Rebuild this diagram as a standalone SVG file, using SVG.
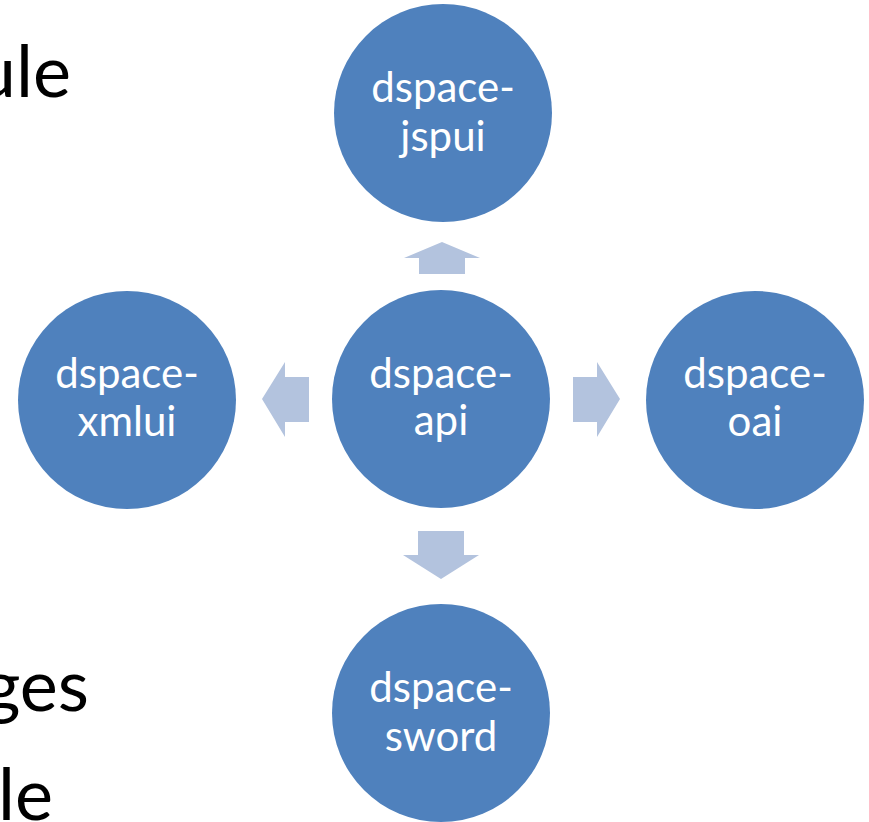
<svg xmlns="http://www.w3.org/2000/svg" width="869" height="822" viewBox="0 0 869 822">
<style>
.bg{font-family:Lato,"Liberation Sans",sans-serif;font-size:72px;fill:#000;text-anchor:end}
.node circle{fill:#4F81BD}
.node text{font-family:Lato,"Liberation Sans",sans-serif;font-size:42px;fill:#fff;text-anchor:middle}
.arrow{fill:#B3C3DE}
</style>
<rect width="869" height="822" fill="#fff"/>
<text class="bg" x="71" y="97">ule</text>
<text class="bg" x="89" y="711">ges</text>
<text class="bg" x="53" y="820">le</text>
<g id="connectors">
<polygon class="arrow" points="442,242 480,258 465,258 465,274 419,274 419,258 404,258"/>
<polygon class="arrow" points="262,399 285,362 285,377 309,377 309,422 285,422 285,437"/>
<polygon class="arrow" points="620,399 597,362 597,377 573,377 573,422 597,422 597,437"/>
<polygon class="arrow" points="441,579 479,555 464,555 464,531 418,531 418,555 403,555"/>
</g>
<g id="node-api" class="node"><circle cx="441" cy="399" r="109"/><text x="441" y="388">dspace-</text><text x="441" y="435">api</text></g>
<g id="node-jspui" class="node"><circle cx="443" cy="113" r="109"/><text x="443" y="102">dspace-</text><text x="443" y="151">jspui</text></g>
<g id="node-xmlui" class="node"><circle cx="127" cy="400" r="109"/><text x="127" y="388">dspace-</text><text x="127" y="436">xmlui</text></g>
<g id="node-oai" class="node"><circle cx="755" cy="400" r="109"/><text x="755" y="388">dspace-</text><text x="755" y="436">oai</text></g>
<g id="node-sword" class="node"><circle cx="441" cy="713" r="109"/><text x="441" y="702">dspace-</text><text x="441" y="751">sword</text></g>
</svg>
